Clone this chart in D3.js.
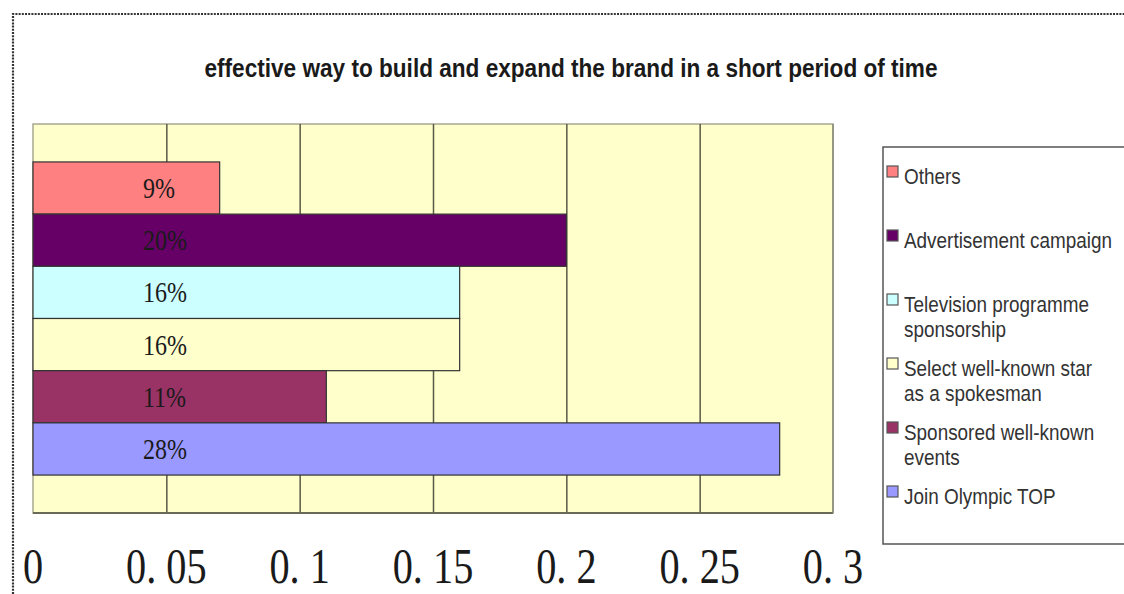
<!DOCTYPE html>
<html><head><meta charset="utf-8">
<script src="https://cdn.jsdelivr.net/npm/d3@7"></script>
<style>html,body{margin:0;padding:0;background:#fff;}svg{display:block;}</style>
</head><body>
<script>
const titleText = "effective way to build and expand the brand in a short period of time";
const categories = ["Others","Advertisement campaign","Television programme sponsorship","Select well-known star as a spokesman","Sponsored well-known events","Join Olympic TOP"];
const legendLines = [["Others"],["Advertisement campaign"],["Television programme","sponsorship"],["Select well-known star","as a spokesman"],["Sponsored well-known","events"],["Join Olympic TOP"]];
const values = [0.07, 0.20, 0.16, 0.16, 0.11, 0.28];
const valueLabels = ["9%","20%","16%","16%","11%","28%"];
const colors = ["#FF8080","#660066","#CCFFFF","#FFFFCC","#993366","#9999FF"];
const tickValues = [0, 0.05, 0.1, 0.15, 0.2, 0.25, 0.3];
const tickLabels = ["0","0. 05","0. 1","0. 15","0. 2","0. 25","0. 3"];

const W = 1124, H = 594;
const plot = {left: 33, right: 833, top: 124, bottom: 513};

const svg = d3.select("body").append("svg").attr("width", W).attr("height", H);

// outer dotted frame
svg.append("path").attr("d", `M13,${H} L13,14 L${W},14`)
  .attr("fill","none").attr("stroke","#333").attr("stroke-width",2.2).attr("stroke-dasharray","2,1.2");

// title
svg.append("text").attr("x", 571).attr("y", 77).attr("text-anchor","middle")
  .attr("font-family","Liberation Sans, Arial, sans-serif").attr("font-weight","bold")
  .attr("font-size",26).attr("fill","#1a1a1a")
  .attr("textLength",733).attr("lengthAdjust","spacingAndGlyphs")
  .text(titleText);

const x = d3.scaleLinear().domain([0,0.3]).range([plot.left, plot.right]);
const y = d3.scaleBand().domain(categories).range([plot.top, plot.bottom]).paddingInner(0).paddingOuter(0.727);

// plot background
svg.append("rect").attr("x",plot.left).attr("y",plot.top)
  .attr("width",plot.right-plot.left).attr("height",plot.bottom-plot.top)
  .attr("fill","#FFFFCC").attr("stroke","#a8a890").attr("stroke-width",1.5);

// gridlines via axis
const grid = svg.append("g").attr("transform",`translate(0,${plot.bottom})`)
  .call(d3.axisTop(x).tickValues(tickValues.slice(1,-1)).tickSize(plot.bottom-plot.top).tickFormat(""));
grid.select(".domain").remove();
grid.selectAll(".tick line").attr("stroke","#5a5a48").attr("stroke-width",1.5);

// bottom axis line
svg.append("line").attr("x1",plot.left).attr("x2",plot.right).attr("y1",plot.bottom).attr("y2",plot.bottom)
  .attr("stroke","#6a6a58").attr("stroke-width",2);
svg.append("line").attr("x1",plot.right).attr("x2",plot.right).attr("y1",plot.top).attr("y2",plot.bottom)
  .attr("stroke","#8a8a78").attr("stroke-width",1.5);

// bars
svg.append("g").selectAll("rect").data(categories).join("rect")
  .attr("x", x(0)).attr("y", d => y(d))
  .attr("width", (d,i) => x(values[i]) - x(0)).attr("height", y.bandwidth())
  .attr("fill", (d,i) => colors[i]).attr("stroke","#333").attr("stroke-width",1.2);

// value labels
const lblScale = 0.8;
svg.append("g").selectAll("text").data(categories).join("text")
  .attr("transform", d => `translate(${x(0) + 110},${y(d) + y.bandwidth()/2 + 10}) scale(${lblScale},1)`)
  .attr("font-family","Liberation Serif, Times New Roman, serif").attr("font-size",30)
  .attr("fill","#1a1a1a").text((d,i) => valueLabels[i]);

// x tick labels
const axScale = 0.79;
svg.append("g").selectAll("text").data(tickValues).join("text")
  .attr("transform", d => `translate(${x(d)},583) scale(${axScale},1)`)
  .attr("text-anchor","middle")
  .attr("font-family","Liberation Serif, Times New Roman, serif").attr("font-size",51)
  .attr("fill","#1a1a1a").text((d,i) => tickLabels[i]);

// legend
const leg = svg.append("g");
leg.append("rect").attr("x",883).attr("y",147).attr("width",260).attr("height",397)
  .attr("fill","#fff").attr("stroke","#555").attr("stroke-width",1.5);
const legItem = leg.selectAll("g.item").data(categories).join("g").attr("class","item")
  .attr("transform",(d,i) => `translate(887,${184 + i*64})`);
legItem.append("rect").attr("x",0).attr("y",-18).attr("width",11).attr("height",11)
  .attr("fill",(d,i) => colors[i]).attr("stroke","#555").attr("stroke-width",1.2);
legItem.each(function(d,i){
  const g = d3.select(this);
  legendLines[i].forEach((line,j) => {
    g.append("text").attr("transform",`translate(17,${j*25}) scale(0.86,1)`)
      .attr("font-family","Liberation Sans, Arial, sans-serif").attr("font-size",22)
      .attr("fill","#333").text(line);
  });
});
</script>
</body></html>
